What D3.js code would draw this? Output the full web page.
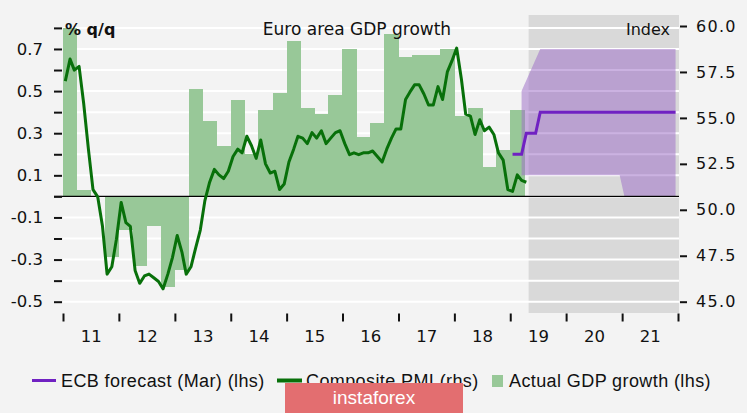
<!DOCTYPE html>
<html><head><meta charset="utf-8">
<script src="https://cdn.jsdelivr.net/npm/d3@7"></script>
<style>
html,body{margin:0;padding:0;background:#f3f3f3;}
svg{display:block;}
</style></head><body>
<svg id="c" width="747" height="413"></svg>
<script>
// ---------- DATA ----------
const yearLabels = ["11","12","13","14","15","16","17","18","19","20","21"];
const leftTicks = [-0.5,-0.4,-0.3,-0.2,-0.1,0,0.1,0.2,0.3,0.4,0.5,0.6,0.7,0.8];
const rightTicks = [45,47.5,50,52.5,55,57.5,60];

// Actual GDP growth, % q/q (quarterly, lhs)
const gdpQuarters = ["2011Q1","2011Q2","2011Q3","2011Q4","2012Q1","2012Q2","2012Q3","2012Q4",
  "2013Q1","2013Q2","2013Q3","2013Q4","2014Q1","2014Q2","2014Q3","2014Q4",
  "2015Q1","2015Q2","2015Q3","2015Q4","2016Q1","2016Q2","2016Q3","2016Q4",
  "2017Q1","2017Q2","2017Q3","2017Q4","2018Q1","2018Q2","2018Q3","2018Q4","2019Q1"];
const gdpValues = [0.80,0.03,0.00,-0.29,-0.16,-0.33,-0.14,-0.43,
  -0.35,0.51,0.36,0.24,0.46,0.20,0.41,0.49,
  0.74,0.42,0.39,0.48,0.70,0.28,0.35,0.77,
  0.66,0.67,0.67,0.70,0.38,0.42,0.14,0.22,0.41];

// Composite PMI (monthly, rhs), Jan 2011 - Apr 2019
const pmiStart = "2011-01";
const pmiValues = [
  57.0,58.2,57.6,57.8,55.8,53.3,51.1,50.7,49.1,46.5,46.9,48.4,
  50.4,49.3,49.1,46.7,46.0,46.4,46.5,46.3,46.1,45.7,46.5,47.4,
  48.6,47.7,46.5,46.9,47.9,48.9,50.5,51.5,52.2,51.9,51.7,52.1,
  52.9,53.3,53.1,54.0,53.5,52.8,53.8,52.5,52.0,52.1,51.1,51.4,
  52.6,53.3,54.0,53.9,53.6,54.2,53.9,54.3,53.6,53.9,54.2,54.3,
  53.6,53.0,53.1,53.0,53.1,53.1,53.2,52.9,52.6,53.3,53.9,54.4,
  54.4,56.0,56.4,56.8,56.8,56.3,55.7,55.7,56.7,56.0,57.5,58.1,
  58.8,57.1,55.2,55.1,54.1,54.9,54.3,54.5,54.1,53.1,52.7,51.1,
  51.0,51.9,51.6,51.5];

// ECB forecast (Mar), monthly, Jan 2019 - Dec 2021 (lhs)
const ecbStart = "2019-01";
const ecbValues = [0.2,0.2,0.2,0.3,0.3,0.3,
  0.4,0.4,0.4,0.4,0.4,0.4,
  0.4,0.4,0.4,0.4,0.4,0.4,0.4,0.4,0.4,0.4,0.4,0.4,
  0.4,0.4,0.4,0.4,0.4,0.4,0.4,0.4,0.4,0.4,0.4,0.4];

// ECB forecast range (vertices of the shaded band)
const bandMonths = ["2019-03","2019-07","2020-12","2021-01","2021-12"];
const bandUpper  = [0.5,0.7,0.7,0.7,0.7];
const bandLower  = [0.1,0.1,0.1,0.0,0.0];

const legendLabels = ["ECB forecast (Mar) (lhs)","Composite PMI (rhs)","Actual GDP growth (lhs)"];

// ---------- HELPERS ----------
const parseMonth = s => { const [y,m] = s.split("-").map(Number); return new Date(y, m-1, 16); };
const monthAt = (start, i) => { const d = parseMonth(start); return new Date(d.getFullYear(), d.getMonth()+i, 16); };
const qStart = s => new Date(+s.slice(0,4), (+s.slice(5)-1)*3, 1);
const qEnd = s => new Date(+s.slice(0,4), (+s.slice(5))*3, 1);

const C = {
  bg:"#f3f3f3", grey:"#d9d9d9", bar:"#98c898", pmi:"#08700a", ecb:"#7021c2",
  band:"rgb(160,115,200)", text:"#111"
};
const FONT = "'DejaVu Sans', sans-serif";

const svg = d3.select("#c");
const x = d3.scaleTime().domain([new Date(2011,0,1), new Date(2022,0,1)]).range([63,678]);
const yL = d3.scaleLinear().domain([-0.5,0.8]).range([301.7,27.9]);
const yR = d3.scaleLinear().domain([45,60]).range([301.7,26]);

svg.append("rect").attr("width",747).attr("height",413).attr("fill",C.bg);

// forecast shaded region
const fx0 = x(new Date(2019,4,1));
svg.append("rect").attr("x",fx0).attr("y",15).attr("width",679-fx0).attr("height",298).attr("fill",C.grey);

// gridlines
svg.append("g").selectAll("line").data(leftTicks).join("line")
  .attr("x1",63).attr("x2",679).attr("y1",d=>yL(d)).attr("y2",d=>yL(d))
  .attr("stroke","#fff").attr("stroke-width",2);

// GDP bars
svg.append("g").attr("shape-rendering","crispEdges")
  .selectAll("rect").data(gdpQuarters.map((q,i)=>({q,v:gdpValues[i]}))).join("rect")
  .attr("x",d=>x(qStart(d.q))).attr("width",d=>x(qEnd(d.q))-x(qStart(d.q))+0.5)
  .attr("y",d=>Math.min(yL(d.v),yL(0))).attr("height",d=>Math.abs(yL(d.v)-yL(0)))
  .attr("fill",C.bar);

// forecast band
const bandData = bandMonths.map((m,i)=>({d:parseMonth(m),lo:bandLower[i],hi:bandUpper[i]}));
svg.append("path").datum(bandData)
  .attr("d", d3.area().x(d=>x(d.d)).y0(d=>yL(d.lo)).y1(d=>yL(d.hi)))
  .attr("fill",C.band).attr("fill-opacity",0.55);

// zero line
svg.append("line").attr("x1",54).attr("x2",679).attr("y1",yL(0)).attr("y2",yL(0))
  .attr("stroke","#000").attr("stroke-width",1.3);

// PMI line
svg.append("path").datum(pmiValues.map((v,i)=>({d:monthAt(pmiStart,i),v})))
  .attr("d", d3.line().x(d=>x(d.d)).y(d=>yR(d.v)))
  .attr("fill","none").attr("stroke",C.pmi).attr("stroke-width",3).attr("stroke-linejoin","round");

// ECB line
svg.append("path").datum(ecbValues.map((v,i)=>({d:monthAt(ecbStart,i),v})))
  .attr("d", d3.line().x(d=>x(d.d)).y(d=>yL(d.v)))
  .attr("fill","none").attr("stroke",C.ecb).attr("stroke-width",3).attr("stroke-linejoin","miter");

// axes
const fmtL = d => (Math.round(Math.abs(d)*10)%2===1) ? (d<0?"-":"")+Math.abs(d).toFixed(1) : "";
const gL = svg.append("g").attr("transform","translate(62,0)")
  .call(d3.axisLeft(yL).tickValues(leftTicks).tickSize(8).tickPadding(11).tickFormat(fmtL));
const gR = svg.append("g").attr("transform","translate(680,0)")
  .call(d3.axisRight(yR).tickValues(rightTicks).tickSize(7).tickPadding(9).tickFormat(d3.format(".1f")));
const yearDates = d3.range(2011,2023).map(y=>new Date(y,0,1));
const gX = svg.append("g").attr("transform","translate(0,313.5)")
  .call(d3.axisBottom(x).tickValues(yearDates).tickSize(8).tickFormat(""));
const gXL = svg.append("g").attr("transform","translate(0,322)")
  .call(d3.axisBottom(x).tickValues(yearLabels.map(s=>new Date(2000+ +s,6,1))).tickSize(0).tickPadding(8)
  .tickFormat((d,i)=>yearLabels[i]));
[gL,gR,gX,gXL].forEach(g=>{
  g.select(".domain").remove();
  g.selectAll(".tick line").attr("stroke","#111").attr("stroke-width",2);
  g.selectAll("text").attr("fill",C.text).style("font-family",FONT).style("font-size","16.5px");
});
gR.selectAll("text").style("font-size","16px").style("letter-spacing","1.3px");

// titles
svg.append("text").attr("x",357).attr("y",35).attr("text-anchor","middle")
  .style("font-family",FONT).style("font-size","17px").attr("fill",C.text).text("Euro area GDP growth");
svg.append("text").attr("x",65).attr("y",35)
  .style("font-family",FONT).style("font-size","16px").style("font-weight","bold").attr("fill",C.text).text("% q/q");
svg.append("text").attr("x",670).attr("y",35).attr("text-anchor","end")
  .style("font-family",FONT).style("font-size","16px").attr("fill",C.text).text("Index");

// legend
const LF = "'Liberation Sans', Arial, sans-serif";
const lg = svg.append("g");
lg.append("line").attr("x1",32).attr("x2",56).attr("y1",380.5).attr("y2",380.5).attr("stroke",C.ecb).attr("stroke-width",3);
lg.append("text").attr("x",61).attr("y",387).text(legendLabels[0]);
lg.append("line").attr("x1",277).attr("x2",302).attr("y1",380.5).attr("y2",380.5).attr("stroke",C.pmi).attr("stroke-width",4);
lg.append("text").attr("x",306).attr("y",387).text(legendLabels[1]);
lg.append("rect").attr("x",492).attr("y",375).attr("width",11).attr("height",12).attr("fill",C.bar);
lg.append("text").attr("x",509).attr("y",387).text(legendLabels[2]);
lg.selectAll("text").style("font-family",LF).style("font-size","18px").style("letter-spacing","0.4px").attr("fill",C.text);

// watermark (overlaps the legend, as in the reference)
svg.append("rect").attr("x",285).attr("y",383).attr("width",178).attr("height",31).attr("fill","#e36e70");
svg.append("text").attr("x",374).attr("y",404).attr("text-anchor","middle")
  .style("font-family",LF).style("font-size","19px").attr("fill","#fff").text("instaforex");
</script>
</body></html>
